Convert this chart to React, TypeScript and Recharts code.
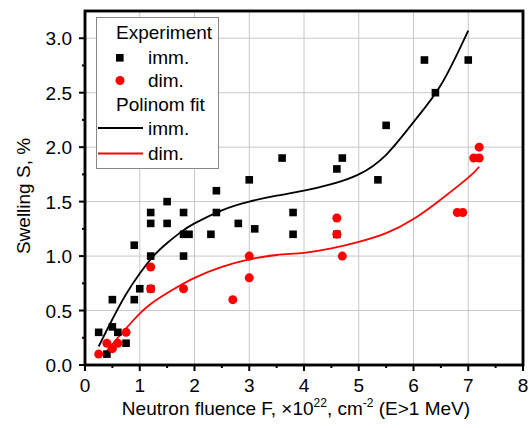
import React from "react";
import { ComposedChart, Scatter, Line, XAxis, YAxis } from "recharts";

const FONT = "'Liberation Sans', Arial, sans-serif";

// experiment, immersed
const immX = [0.25, 0.4, 0.5, 0.5, 0.6, 0.75, 0.9, 0.9, 1.0, 1.2, 1.2, 1.2, 1.2, 1.5, 1.5, 1.8, 1.8, 1.9, 1.8, 2.3, 2.4, 2.4, 2.8, 3.0, 3.1, 3.6, 3.8, 3.8, 4.6, 4.7, 4.6, 5.35, 5.5, 6.2, 6.4, 7.0];
const immY = [0.3, 0.1, 0.6, 0.35, 0.3, 0.2, 0.6, 1.1, 0.7, 1.4, 1.3, 1.0, 0.7, 1.5, 1.3, 1.4, 1.2, 1.2, 1.0, 1.2, 1.4, 1.6, 1.3, 1.7, 1.25, 1.9, 1.4, 1.2, 1.8, 1.9, 1.2, 1.7, 2.2, 2.8, 2.5, 2.8];

// experiment, dimensional
const dimX = [0.25, 0.4, 0.5, 0.6, 0.75, 1.2, 1.2, 1.8, 2.7, 3.0, 3.0, 4.6, 4.6, 4.7, 6.8, 6.9, 7.1, 7.2, 7.2];
const dimY = [0.1, 0.2, 0.15, 0.2, 0.3, 0.9, 0.7, 0.7, 0.6, 1.0, 0.8, 1.35, 1.2, 1.0, 1.4, 1.4, 1.9, 1.9, 2.0];

// polynomial fits
const fitImmX = [0.25, 0.5, 0.75, 1.0, 1.25, 1.5, 1.75, 2.0, 2.5, 3.0, 3.5, 4.0, 4.5, 5.0, 5.5, 6.0, 6.5, 7.0];
const fitImmY = [0.17, 0.42, 0.65, 0.84, 1.0, 1.12, 1.22, 1.3, 1.42, 1.5, 1.555, 1.6, 1.66, 1.75, 1.93, 2.23, 2.57, 3.07];
const fitDimX = [0.4, 0.6, 0.9, 1.2, 1.6, 2.0, 2.5, 3.0, 3.5, 4.0, 4.5, 5.0, 5.5, 6.0, 6.5, 7.0, 7.2];
const fitDimY = [0.13, 0.25, 0.42, 0.56, 0.69, 0.8, 0.9, 0.97, 1.01, 1.03, 1.07, 1.13, 1.21, 1.34, 1.52, 1.72, 1.82];

const xTicks = [0, 0.5, 1, 1.5, 2, 2.5, 3, 3.5, 4, 4.5, 5, 5.5, 6, 6.5, 7, 7.5, 8];
const yTicks = [0, 0.25, 0.5, 0.75, 1, 1.25, 1.5, 1.75, 2, 2.25, 2.5, 2.75, 3, 3.25];
const xGrid = [1, 2, 3, 4, 5, 6, 7];
const yGrid = [0.5, 1, 1.5, 2, 2.5, 3];
const X_MAX = 8;
const Y_MAX = 3.25;

const W = 529;
const H = 428;
const MARGIN = { top: 11, right: 6, bottom: 0, left: 0 };
const X_AXIS_H = 63;
const Y_AXIS_W = 85;
const PLOT_L = Y_AXIS_W;
const PLOT_T = MARGIN.top;
const PLOT_W = W - Y_AXIS_W - MARGIN.right;
const PLOT_H = H - MARGIN.top - X_AXIS_H;

// same linear mapping as the chart axes, for the background grid
const sx = (v: number) => PLOT_L + (v / X_MAX) * PLOT_W;
const sy = (v: number) => PLOT_T + (1 - v / Y_MAX) * PLOT_H;

const zip = (xs: number[], ys: number[]) => xs.map((x, i) => ({ x, y: ys[i] }));
const immData = zip(immX, immY);
const dimData = zip(dimX, dimY);
const fitImm = zip(fitImmX, fitImmY);
const fitDim = zip(fitDimX, fitDimY);

const Square = (p: any) => <rect x={p.cx - 3.8} y={p.cy - 3.8} width={7.6} height={7.6} fill="#000" />;
const Dot = (p: any) => <circle cx={p.cx} cy={p.cy} r={4.5} fill="#ff0000" />;

const XTick = (p: any) => {
  const v = p.payload.value;
  const major = Number.isInteger(v);
  return (
    <g>
      <line x1={p.x} x2={p.x} y1={p.y} y2={p.y + (major ? 6 : 3)} stroke="#000" strokeWidth={2} />
      {major && (
        <text x={p.x} y={p.y + 27} textAnchor="middle" fontSize={19} fontFamily={FONT} fill="#000">{v}</text>
      )}
    </g>
  );
};

const YTick = (p: any) => {
  const v = p.payload.value;
  const major = Math.abs(v * 2 - Math.round(v * 2)) < 1e-6;
  if (v > 3.1) return <g />;
  return (
    <g>
      <line x1={p.x} x2={p.x - (major ? 6 : 3)} y1={p.y} y2={p.y} stroke="#000" strokeWidth={2} />
      {major && (
        <text x={p.x - 13} y={p.y + 7} textAnchor="end" fontSize={19} fontFamily={FONT} fill="#000">{v.toFixed(1)}</text>
      )}
    </g>
  );
};

const XLabel = () => (
  <text x={296} y={415} textAnchor="middle" fontSize={19} fontFamily={FONT} fill="#000">
    Neutron fluence F, ×10<tspan fontSize={12} dy={-8}>22</tspan>
    <tspan dy={8}>, cm</tspan>
    <tspan fontSize={12} dy={-8}>-2</tspan>
    <tspan dy={8}> (E&gt;1 MeV)</tspan>
  </text>
);

const YLabel = () => (
  <text x={30} y={196} transform="rotate(-90 30 196)" textAnchor="middle" fontSize={19} fontFamily={FONT} fill="#000">
    Swelling S, %
  </text>
);

const LegendBox = () => {
  const t = { fontSize: 19, fontFamily: FONT, fill: "#000" };
  return (
    <svg width={124} height={153} style={{ display: "block" }}>
      <rect x={0.5} y={0.5} width={122} height={151} fill="#fff" stroke="#888" strokeWidth={1} />
      <text x={20} y={22} {...t}>Experiment</text>
      <rect x={20} y={37} width={7.6} height={7.6} fill="#000" />
      <text x={52} y={47} {...t}>imm.</text>
      <circle cx={24} cy={63.5} r={4.5} fill="#ff0000" />
      <text x={52} y={70} {...t}>dim.</text>
      <text x={20} y={94} {...t}>Polinom fit</text>
      <line x1={2} x2={47} y1={111} y2={111} stroke="#000" strokeWidth={1.8} />
      <text x={52} y={118} {...t}>imm.</text>
      <line x1={2} x2={47} y1={136.5} y2={136.5} stroke="#ff0000" strokeWidth={1.8} />
      <text x={52} y={143} {...t}>dim.</text>
    </svg>
  );
};

const Frame = () => (
  <rect x={sx(0)} y={sy(Y_MAX)} width={sx(X_MAX) - sx(0)} height={sy(0) - sy(Y_MAX)}
    fill="none" stroke="#000" strokeWidth={2.5} />
);

// grid under the chart
const GridSvg = () => (
  <svg width={W} height={H} style={{ position: "absolute", left: 0, top: 0 }}>
    {xGrid.map((v) => (
      <line key={"x" + v} x1={sx(v)} x2={sx(v)} y1={sy(Y_MAX)} y2={sy(0)} stroke="#c8c8c8" strokeWidth={1} />
    ))}
    {yGrid.map((v) => (
      <line key={"y" + v} x1={sx(0)} x2={sx(X_MAX)} y1={sy(v)} y2={sy(v)} stroke="#c8c8c8" strokeWidth={1} />
    ))}
    <Frame />
  </svg>
);

// frame on top as well, so it is never hidden
const FrameSvg = () => (
  <svg width={W} height={H} style={{ position: "absolute", left: 0, top: 0, pointerEvents: "none" }}>
    <Frame />
  </svg>
);

export default function App() {
  return (
    <div style={{ position: "absolute", left: 0, top: 0, width: W, height: H }}>
      <GridSvg />
      <div style={{ position: "absolute", left: 0, top: 0 }}>
        <ComposedChart width={W} height={H} margin={MARGIN}>
          <XAxis
            type="number" dataKey="x" domain={[0, X_MAX]} ticks={xTicks} interval={0}
            height={X_AXIS_H} tickSize={0} tickMargin={0} axisLine={false} tickLine={false}
            tick={XTick} label={XLabel}
          />
          <YAxis
            type="number" dataKey="y" domain={[0, Y_MAX]} ticks={yTicks} interval={0}
            width={Y_AXIS_W} tickSize={0} tickMargin={0} axisLine={false} tickLine={false}
            tick={YTick} label={YLabel}
          />
          <Scatter name="imm." data={immData} shape={Square} isAnimationActive={false} />
          <Scatter name="dim." data={dimData} shape={Dot} isAnimationActive={false} />
          <Line data={fitImm} dataKey="y" type="natural" stroke="#000" strokeWidth={1.8} dot={false} isAnimationActive={false} />
          <Line data={fitDim} dataKey="y" type="natural" stroke="#ff0000" strokeWidth={1.8} dot={false} isAnimationActive={false} />
        </ComposedChart>
      </div>
      <FrameSvg />
      <div style={{ position: "absolute", left: 96, top: 17 }}>
        <LegendBox />
      </div>
    </div>
  );
}
